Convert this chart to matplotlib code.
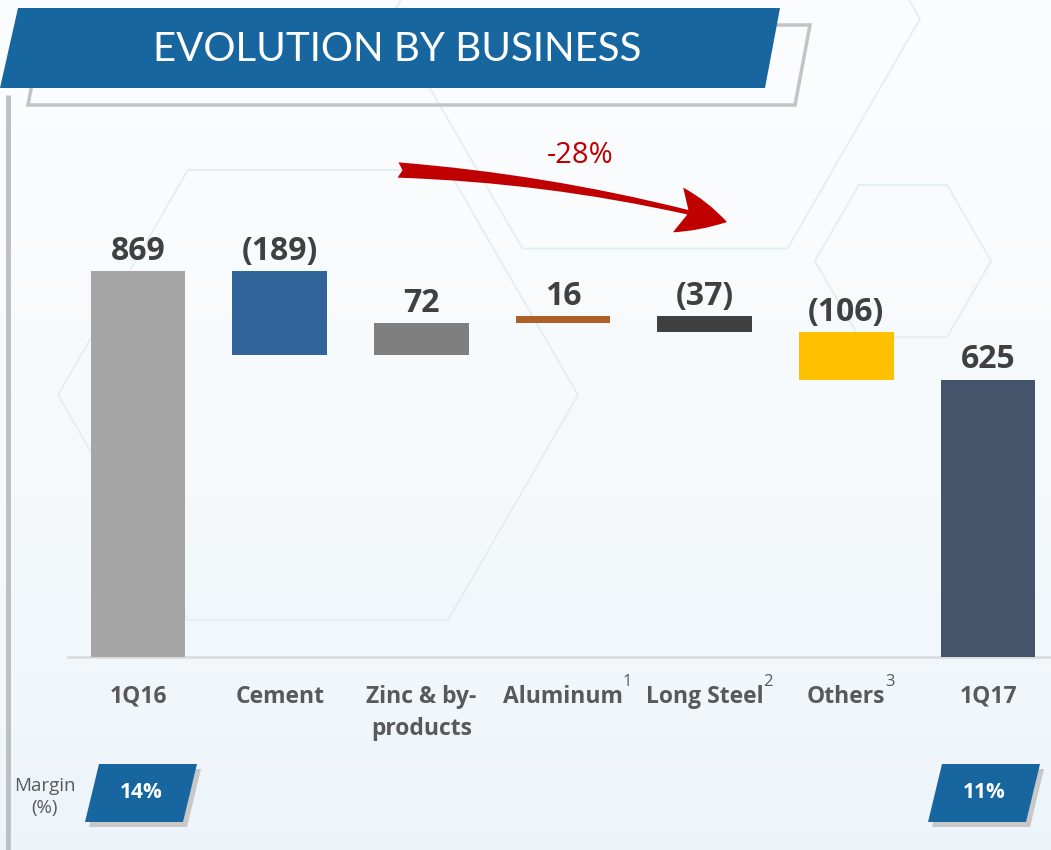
import numpy as np
import matplotlib.pyplot as plt
from matplotlib.patches import Polygon, FancyArrowPatch, RegularPolygon

# ---- data -------------------------------------------------------------
categories = ['1Q16', 'Cement', 'Zinc & by-\nproducts', 'Aluminum', 'Long Steel', 'Others', '1Q17']
footnotes = ['', '', '', '1', '2', '3', '']
values = [869, -189, 72, 16, -37, -106, 625]
is_total = [True, False, False, False, False, False, True]
bar_colors = ['#A5A5A5', '#31659A', '#7F7F7F', '#AE6126', '#404040', '#FFC000', '#44546A']
margins = {0: '14%', 6: '11%'}
margin_title = 'Margin\n(%)'
change_label = '-28%'
title = 'EVOLUTION BY BUSINESS'

# ---- layout (pixels of the 1051x850 canvas) ---------------------------
W, H = 1051, 850
x0_px, step_px = 138, 141.67       # centre of first bar, bar spacing
base_px, px_per_unit = 657, 0.444  # baseline row, pixels per value unit
BLUE = '#1766A0'
LABEL = '#404040'
CAT = '#595959'

fig = plt.figure(figsize=(W / 100, H / 100), dpi=100)

# background layer in pixel coordinates
bg = fig.add_axes([0, 0, 1, 1])
bg.set_xlim(0, W)
bg.set_ylim(H, 0)
bg.axis('off')
grad = np.linspace(0, 1, 256)[:, None]
top_c = np.array([0.985, 0.99, 0.995])
bot_c = np.array([0.93, 0.96, 0.98])
img = top_c + (bot_c - top_c) * grad[..., None] ** 1.5
bg.imshow(np.repeat(img, 2, axis=1), extent=(0, W, H, 0), aspect='auto', zorder=0)

# faint hexagons
for (cx, cy, r) in [(655, 19, 265), (318, 395, 260), (903, 261, 88)]:
    bg.add_patch(RegularPolygon((cx, cy), 6, radius=r, orientation=np.pi / 6,
                                fill=False, ec='#E4EDF2', lw=1.3, zorder=1))

# left rule
bg.plot([8, 8], [95, H], color='#BFBFBF', lw=3.5, zorder=2, solid_capstyle='butt')

# title banner
bg.add_patch(Polygon([(28, 105), (795, 105), (810, 25), (43, 25)], closed=True,
                     fill=False, ec='#C3C3C3', lw=2.5, zorder=3))
bg.add_patch(Polygon([(0, 88), (765, 88), (780, 8), (18, 8)], closed=True,
                     fc=BLUE, ec='none', zorder=4))
bg.text(397, 49, title, color='white', fontsize=29, family='Lato',
        ha='center', va='center', zorder=5)

# arrow and change label
bg.add_patch(FancyArrowPatch((398, 170), (727, 222), connectionstyle='arc3,rad=-0.05',
                             arrowstyle='fancy,head_length=3.3,head_width=3.0,tail_width=1.0',
                             mutation_scale=11, color='#C00000', lw=0, shrinkA=0, shrinkB=0,
                             zorder=5))
bg.text(580, 155, change_label, color='#C00000', fontsize=21, family='Open Sans',
        ha='center', va='center', zorder=5)

# margin boxes
bg.text(45, 797, margin_title, color=CAT, fontsize=13.5, family='Open Sans',
        ha='center', va='center', linespacing=1.3, zorder=5)
for i, txt in margins.items():
    cx, cy = x0_px + i * step_px + (3 if i == 0 else -4), 793
    hw, hh, sk = 49, 29, 7
    pts = [(cx - hw - sk, cy + hh), (cx + hw - sk, cy + hh), (cx + hw + sk, cy - hh), (cx - hw + sk, cy - hh)]
    bg.add_patch(Polygon([(x + 4, y + 5) for x, y in pts], closed=True, fc='#C8C8C8', ec='none', zorder=4))
    bg.add_patch(Polygon(pts, closed=True, fc=BLUE, ec='none', zorder=5))
    bg.text(cx, cy, txt, color='white', fontsize=15, fontweight='bold', family='Open Sans',
            ha='center', va='center', zorder=6)

# ---- waterfall --------------------------------------------------------
ax = fig.add_axes([0, 0, 1, 1])
ax.patch.set_alpha(0)
ax.axis('off')
ax.set_xlim(-x0_px / step_px, (W - x0_px) / step_px)
ax.set_ylim(-(H - base_px) / px_per_unit, base_px / px_per_unit)

x = np.arange(len(categories))
bottoms, heights, tops = [], [], []
running = 0
for v, tot in zip(values, is_total):
    if tot:
        bottoms.append(0)
        heights.append(v)
        running = v
    else:
        bottoms.append(min(running, running + v))
        heights.append(abs(v))
        running += v
    tops.append(bottoms[-1] + heights[-1])

ax.axhline(0, xmin=68 / W, xmax=1, color='#D9D9D9', lw=1.8, zorder=1)
ax.bar(x, heights, bottom=bottoms, width=0.67, color=bar_colors, zorder=2)

for i, v in enumerate(values):
    lbl = f'({abs(v)})' if v < 0 else f'{v}'
    ax.annotate(lbl, xy=(i, tops[i]), xytext=(0, 8), textcoords='offset points',
                ha='center', va='baseline', fontsize=23, fontweight='bold',
                family='Open Sans', color=LABEL, zorder=3)

for i, (cat, fn) in enumerate(zip(categories, footnotes)):
    t = ax.annotate(cat, xy=(i, 0), xytext=(0, -20), textcoords='offset points',
                    ha='center', va='top', fontsize=16.5, fontweight='bold',
                    family='Open Sans', color=CAT, linespacing=1.45, zorder=3)
    if fn:
        ax.annotate(fn, xy=(1, 1), xycoords=t, xytext=(0, 8), textcoords='offset points',
                    ha='left', va='top', fontsize=12, family='Open Sans', color=CAT, zorder=3)

fig.savefig('out.png', dpi=100)
